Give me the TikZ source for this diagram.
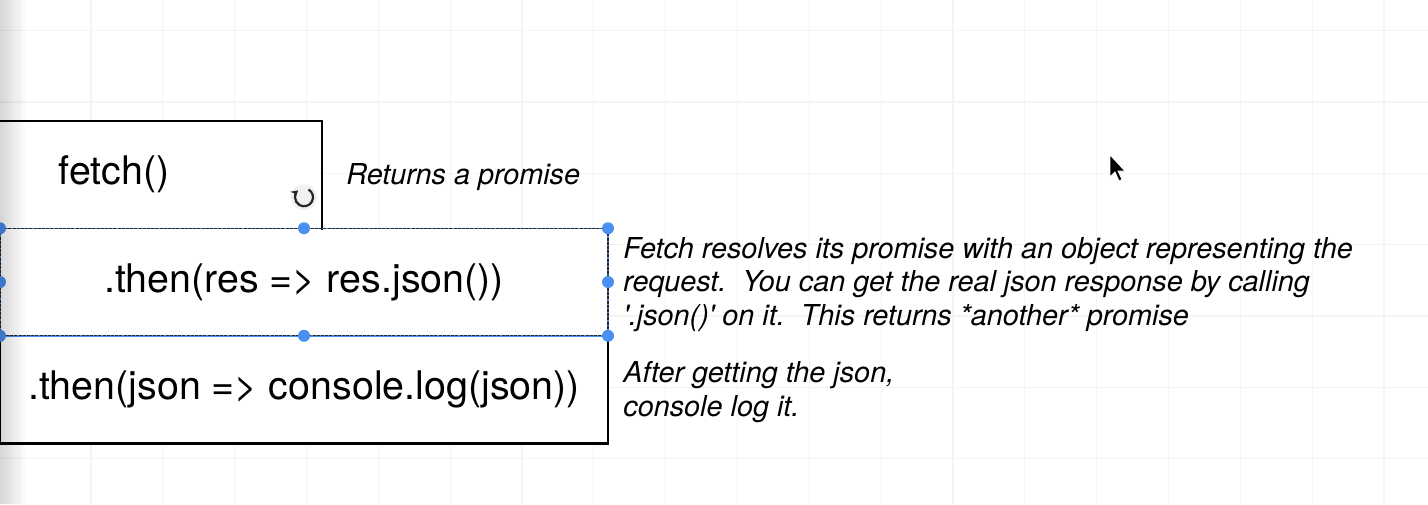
\documentclass[tikz,border=0pt]{standalone}
\usepackage{fontspec}
\setmainfont{TeX Gyre Heros}
\usetikzlibrary{positioning}
\usetikzlibrary{arrows.meta}

\definecolor{handleblue}{RGB}{74,144,240}
\definecolor{gridgray}{RGB}{244,244,244}

\begin{document}
\begin{tikzpicture}[x=0.5pt,y=-0.5pt,
  box/.style={fill=white,minimum width=#1,minimum height=53.75pt,inner sep=0pt,outer sep=0pt,font=\fontsize{19.7}{22}\selectfont},
  boxline/.style={line width=1.25pt,line cap=rect},
  note/.style={inner sep=0pt,align=left,yshift=-1.25pt,font=\fontsize{14.4}{16.85}\selectfont\itshape},
  handle/.style={fill=handleblue}]
  \useasboundingbox (0,0) rectangle (1428,504);
  \clip (0,0) rectangle (1428,504);
  \fill[white] (0,0) rectangle (1428,504);
  \foreach \gx in {0,...,19} \draw[gridgray,line width=0.6pt] (19.2+71.83*\gx,0) -- (19.2+71.83*\gx,504);
  \foreach \gy in {0,...,6} \draw[gridgray,line width=0.6pt] (0,30.7+71.3*\gy) -- (1428,30.7+71.3*\gy);

  \node[box=208pt] (fetch) at (114,174.5) {fetch()};
  \node[box=304pt] (thenres) at (304,282) {.then(res => res.json())};
  \node[box=304pt,below=0pt of thenres] (thenjson) {.then(json => console.log(json))};

  \draw[boxline](fetch.south east)--(fetch.north east)--(fetch.north west);
  \draw[boxline](thenjson.north west)--(thenjson.south west)--(thenjson.south east)--(thenjson.north east);

  % selection round the middle box
  \draw[handleblue,line width=0.75pt](thenres.north west) rectangle (thenres.south east);
  \draw[black!85,line width=0.6pt,dash pattern=on 1.5pt off 0.6pt](thenres.north west) rectangle (thenres.south east);
  \foreach \a in {north west,north,north east,east,south east,south,south west,west}
    \fill[handle](thenres.\a) circle[radius=6];
  \coordinate (rot) at ([yshift=15.5pt]thenres.north);
  \fill[black!6](rot) circle[radius=13];
  \draw[black!85,line width=1.1pt,-{Stealth[length=3.5pt,width=4pt]}]([shift={(300:9)}]rot) arc[start angle=300,end angle=590,radius=9];

  \node[note,right=12pt of fetch] (ret) {Returns a promise};
  \node[note,right=7.5pt of thenres] (resolve) {Fetch resolves its promise with an object representing the\\request.\ \ You can get the real json response by calling\\\textquotesingle.json()\textquotesingle{} on it.\ \ This returns *another* promise};
  \node[note,right=7.5pt of thenjson] (after) {After getting the json,\\console log it.};

  \coordinate (cursor) at (1110,155);
  \fill[black,draw=white,line width=0.4pt](cursor)--++(0,22)--++(5,-5)--++(4,9)--++(3,-1.5)--++(-4,-8.5)--++(7,0)--cycle;

  \foreach \i in {1,...,10} \fill[black,opacity=0.014](0,0) rectangle (2.5*\i,504);
\end{tikzpicture}
\end{document}
